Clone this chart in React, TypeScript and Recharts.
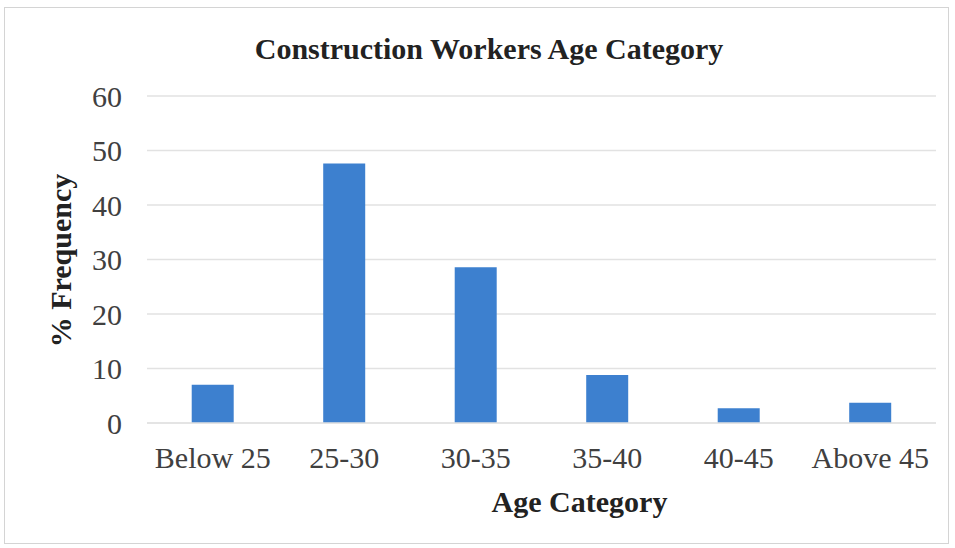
import React from 'react';
import { BarChart, Bar, XAxis, YAxis, CartesianGrid, Customized } from 'recharts';

const categories = ['Below 25', '25-30', '30-35', '35-40', '40-45', 'Above 45'];
const frequency = [7, 47.6, 28.6, 8.8, 2.7, 3.7];
const yTicks = [0, 10, 20, 30, 40, 50, 60];

const data = categories.map((c, i) => ({ category: c, value: frequency[i] }));

const FONT = '"Liberation Serif", "Times New Roman", serif';

const XLabel = (props: any) => {
  const vb = props.viewBox || {};
  return (
    <text x={vb.x + vb.width / 2 + 38} y={vb.y + 89} textAnchor="middle" fontFamily={FONT} fontWeight="bold" fontSize={30} fill="#222">
      Age Category
    </text>
  );
};

const YLabel = (props: any) => {
  const vb = props.viewBox || {};
  const cx = 71;
  const cy = vb.y + vb.height / 2 + 1;
  return (
    <text x={cx} y={cy} transform={`rotate(-90, ${cx}, ${cy})`} textAnchor="middle" fontFamily={FONT} fontWeight="bold" fontSize={30} fill="#222">
      % Frequency
    </text>
  );
};

const Title = () => (
  <text x={489} y={59} textAnchor="middle" fontFamily={FONT} fontWeight="bold" fontSize={30} fill="#222">
    Construction Workers Age Category
  </text>
);

export default function App() {
  return (
    <div style={{ position: 'absolute', left: 0, top: 0, width: 955, height: 548, background: '#fff' }}>
      <div style={{ position: 'absolute', left: 4, top: 7, width: 945, height: 537, border: '1px solid #d4d4d4', boxSizing: 'border-box' }} />
      <div style={{ position: 'absolute', left: 0, top: 0 }}>
        <BarChart width={955} height={548} data={data} margin={{ top: 96, right: 19, bottom: 25, left: 0 }} barCategoryGap="34%">
          <CartesianGrid vertical={false} stroke="#e2e2e2" strokeWidth={1.5} />
          <XAxis
            dataKey="category"
            height={100}
            interval={0}
            tickLine={false}
            tickSize={0}
            tickMargin={24}
            axisLine={{ stroke: '#e2e2e2', strokeWidth: 1.5 }}
            tick={{ fontFamily: FONT, fontSize: 30, fill: '#404040' }}
            label={<XLabel />}
          />
          <YAxis
            width={147}
            domain={[0, 60]}
            ticks={yTicks}
            interval={0}
            tickLine={false}
            axisLine={false}
            tickSize={0}
            tickMargin={25}
            tick={{ fontFamily: FONT, fontSize: 30, fill: '#404040' }}
            label={<YLabel />}
          />
          <Bar dataKey="value" fill="#3d80cf" isAnimationActive={false} />
          <Customized component={Title} />
        </BarChart>
      </div>
    </div>
  );
}
